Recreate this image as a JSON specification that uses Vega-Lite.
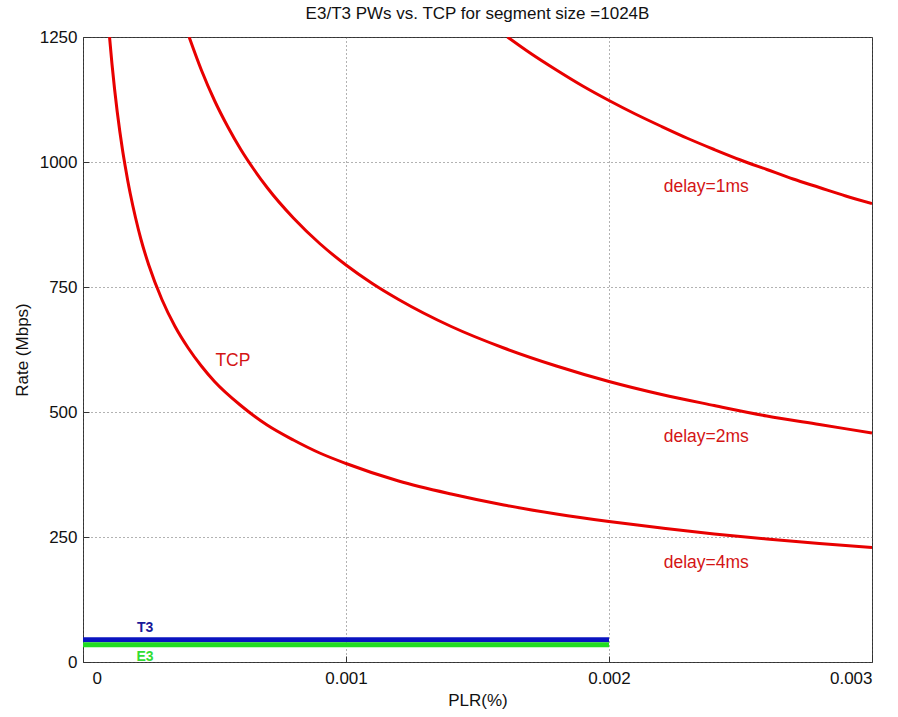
{
  "$schema": "https://vega.github.io/schema/vega-lite/v6.json",
  "width": 789,
  "height": 625,
  "autosize": "none",
  "padding": {"left": 83, "top": 37, "right": 26, "bottom": 55},
  "background": "white",
  "title": {"text": "E3/T3 PWs vs. TCP for segment size =1024B", "font": "Liberation Sans", "fontSize": 17, "fontWeight": "normal", "color": "#111111", "offset": 5, "anchor": "middle"},
  "config": {
    "view": {"stroke": "#333333", "strokeWidth": 1},
    "axis": {
      "labelFont": "Liberation Sans", "labelFontSize": 17, "labelColor": "#111111",
      "titleFont": "Liberation Sans", "titleFontSize": 17, "titleFontWeight": "normal", "titleColor": "#111111",
      "domain": false, "grid": true, "gridColor": "#555555", "gridDash": [1, 3], "gridWidth": 1, "gridOpacity": 0.9,
      "tickColor": "#333333", "tickSize": -6, "labelPadding": 12
    }
  },
  "datasets": {
    "curves": [
      {"series": "d4", "p": 0.0001009, "rate": 1250},
      {"series": "d4", "p": 0.00011, "rate": 1197},
      {"series": "d4", "p": 0.00012, "rate": 1146},
      {"series": "d4", "p": 0.00013, "rate": 1101},
      {"series": "d4", "p": 0.00014, "rate": 1061},
      {"series": "d4", "p": 0.00015, "rate": 1025},
      {"series": "d4", "p": 0.00016, "rate": 993},
      {"series": "d4", "p": 0.00017, "rate": 963},
      {"series": "d4", "p": 0.00018, "rate": 936},
      {"series": "d4", "p": 0.0002, "rate": 888},
      {"series": "d4", "p": 0.00022, "rate": 846},
      {"series": "d4", "p": 0.00025, "rate": 794},
      {"series": "d4", "p": 0.0003, "rate": 725},
      {"series": "d4", "p": 0.00035, "rate": 671},
      {"series": "d4", "p": 0.0004, "rate": 628},
      {"series": "d4", "p": 0.00045, "rate": 592},
      {"series": "d4", "p": 0.0005, "rate": 561},
      {"series": "d4", "p": 0.0006, "rate": 513},
      {"series": "d4", "p": 0.0007, "rate": 474},
      {"series": "d4", "p": 0.0008, "rate": 444},
      {"series": "d4", "p": 0.0009, "rate": 418},
      {"series": "d4", "p": 0.001, "rate": 397},
      {"series": "d4", "p": 0.0012, "rate": 362},
      {"series": "d4", "p": 0.0014, "rate": 336},
      {"series": "d4", "p": 0.0016, "rate": 314},
      {"series": "d4", "p": 0.0018, "rate": 296},
      {"series": "d4", "p": 0.002, "rate": 281},
      {"series": "d4", "p": 0.0022, "rate": 268},
      {"series": "d4", "p": 0.0024, "rate": 256},
      {"series": "d4", "p": 0.0026, "rate": 246},
      {"series": "d4", "p": 0.0028, "rate": 237},
      {"series": "d4", "p": 0.003, "rate": 229},
      {"series": "d2", "p": 0.0004035, "rate": 1250},
      {"series": "d2", "p": 0.00045, "rate": 1184},
      {"series": "d2", "p": 0.0005, "rate": 1123},
      {"series": "d2", "p": 0.00055, "rate": 1071},
      {"series": "d2", "p": 0.0006, "rate": 1025},
      {"series": "d2", "p": 0.00065, "rate": 985},
      {"series": "d2", "p": 0.0007, "rate": 949},
      {"series": "d2", "p": 0.0008, "rate": 888},
      {"series": "d2", "p": 0.0009, "rate": 837},
      {"series": "d2", "p": 0.001, "rate": 794},
      {"series": "d2", "p": 0.0011, "rate": 757},
      {"series": "d2", "p": 0.0012, "rate": 725},
      {"series": "d2", "p": 0.0014, "rate": 671},
      {"series": "d2", "p": 0.0016, "rate": 628},
      {"series": "d2", "p": 0.0018, "rate": 592},
      {"series": "d2", "p": 0.002, "rate": 561},
      {"series": "d2", "p": 0.0022, "rate": 535},
      {"series": "d2", "p": 0.0024, "rate": 513},
      {"series": "d2", "p": 0.0026, "rate": 492},
      {"series": "d2", "p": 0.0028, "rate": 475},
      {"series": "d2", "p": 0.003, "rate": 458},
      {"series": "d1", "p": 0.001614, "rate": 1250},
      {"series": "d1", "p": 0.0017, "rate": 1218},
      {"series": "d1", "p": 0.0018, "rate": 1184},
      {"series": "d1", "p": 0.0019, "rate": 1152},
      {"series": "d1", "p": 0.002, "rate": 1123},
      {"series": "d1", "p": 0.0021, "rate": 1096},
      {"series": "d1", "p": 0.0022, "rate": 1071},
      {"series": "d1", "p": 0.0023, "rate": 1047},
      {"series": "d1", "p": 0.0024, "rate": 1025},
      {"series": "d1", "p": 0.0025, "rate": 1004},
      {"series": "d1", "p": 0.0026, "rate": 985},
      {"series": "d1", "p": 0.0027, "rate": 966},
      {"series": "d1", "p": 0.0028, "rate": 949},
      {"series": "d1", "p": 0.0029, "rate": 932},
      {"series": "d1", "p": 0.003, "rate": 917}
    ],
    "pw": [
      {"series": "T3", "p": 0, "rate": 44.7},
      {"series": "T3", "p": 0.002, "rate": 44.7},
      {"series": "E3", "p": 0, "rate": 34.4},
      {"series": "E3", "p": 0.002, "rate": 34.4}
    ],
    "labels": [
      {"group": "TCP", "label": "TCP", "p": 0.00057, "rate": 602},
      {"group": "TCP", "label": "delay=1ms", "p": 0.00237, "rate": 950},
      {"group": "TCP", "label": "delay=2ms", "p": 0.00237, "rate": 450},
      {"group": "TCP", "label": "delay=4ms", "p": 0.00237, "rate": 198}
    ],
    "pwlabels": [
      {"group": "T3", "label": "T3", "p": 0.000236, "rate": 68},
      {"group": "E3", "label": "E3", "p": 0.000236, "rate": 10}
    ]
  },
  "encoding": {
    "x": {"field": "p", "type": "quantitative", "title": "PLR(%)",
      "scale": {"domain": [0, 0.003], "nice": false, "zero": false},
      "axis": {"values": [0, 0.001, 0.002, 0.003], "format": "~g", "labelPadding": 14, "titlePadding": 6,
        "labelOffset": {"condition": {"test": "datum.value == 0", "value": 9}, "value": 0}}},
    "y": {"field": "rate", "type": "quantitative", "title": "Rate (Mbps)",
      "scale": {"domain": [0, 1250], "nice": false},
      "axis": {"values": [0, 250, 500, 750, 1000, 1250], "format": "d", "labelPadding": 12, "titlePadding": 8}}
  },
  "layer": [
    {
      "data": {"name": "curves"},
      "mark": {"type": "line", "strokeWidth": 3, "clip": true, "color": "#e80000", "interpolate": "monotone"},
      "encoding": {"detail": {"field": "series", "type": "nominal"}}
    },
    {
      "data": {"name": "pw"},
      "mark": {"type": "line", "strokeWidth": 5, "clip": true},
      "encoding": {
        "color": {"field": "series", "type": "nominal", "legend": null,
          "scale": {"domain": ["T3", "E3"], "range": ["#0a14c0", "#22dd22"]}}
      }
    },
    {
      "data": {"name": "labels"},
      "mark": {"type": "text", "font": "Liberation Sans", "fontSize": 17.5, "align": "center", "baseline": "middle", "color": "#d41515"},
      "encoding": {
        "text": {"field": "label", "type": "nominal"}
      }
    },
    {
      "data": {"name": "pwlabels"},
      "mark": {"type": "text", "font": "Liberation Sans", "fontSize": 14, "fontWeight": "bold", "align": "center", "baseline": "middle"},
      "encoding": {
        "text": {"field": "label", "type": "nominal"},
        "color": {"field": "group", "type": "nominal", "legend": null,
          "scale": {"domain": ["T3", "E3"], "range": ["#1a1a99", "#33dd33"]}}
      }
    }
  ],
  "resolve": {"scale": {"color": "independent"}}
}
